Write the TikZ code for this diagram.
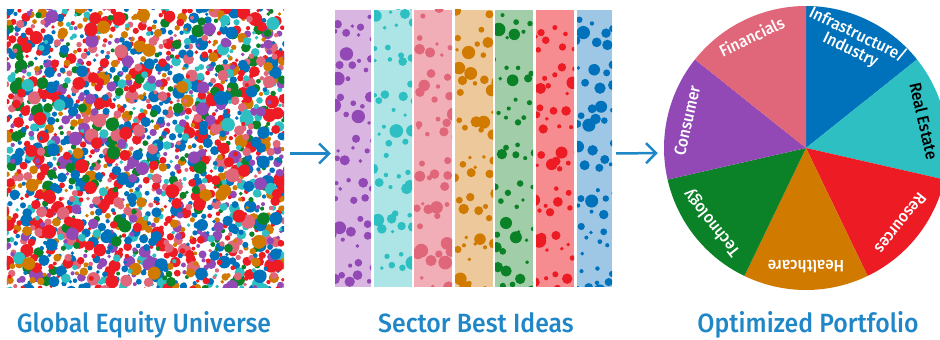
\documentclass[tikz,border=0pt]{standalone}
\usepackage{fontspec}
\setmainfont{Fira Sans Medium}[FakeStretch=0.94]
\usetikzlibrary{arrows.meta,calc}
\definecolor{cred}{HTML}{ED1C24}
\definecolor{cblu}{HTML}{0072BC}
\definecolor{cgrn}{HTML}{0C8228}
\definecolor{cora}{HTML}{D07A00}
\definecolor{cpnk}{HTML}{E0677A}
\definecolor{cpur}{HTML}{9249B5}
\definecolor{ccya}{HTML}{2DBFC1}
\definecolor{lred}{HTML}{F78C90}
\definecolor{lblu}{HTML}{9DC7E5}
\definecolor{lgrn}{HTML}{A1CEA9}
\definecolor{lora}{HTML}{ECC89A}
\definecolor{lpnk}{HTML}{F1AEB6}
\definecolor{lpur}{HTML}{D9B5E1}
\definecolor{lcya}{HTML}{ADE5E6}
\definecolor{labblue}{HTML}{1F87C8}
\colorlet{dc1}{cred}\colorlet{dc2}{cblu}\colorlet{dc3}{cgrn}
\colorlet{dc4}{cora}\colorlet{dc5}{cpnk}\colorlet{dc6}{cpur}
\colorlet{dc7}{ccya}\colorlet{dc8}{cred}\colorlet{dc9}{cblu}
\begin{document}
\begin{tikzpicture}[x=1pt,y=1pt,
  panel/.style={inner sep=0pt, minimum width=277, minimum height=277},
  arr/.style={labblue, line width=2.5pt, -{Straight Barb[length=10pt,width=20pt]}},
  pielab/.style={text=white, font=\fontsize{16.5}{16.5}\selectfont, align=center, inner sep=0pt},
  caption/.style={text=labblue, font=\fontsize{26.4}{28}\selectfont, anchor=base, inner sep=0pt}]
\useasboundingbox (0,0) rectangle (940,340);
\pgfmathsetseed{7}
% panels
\node[panel] (universe) at (145.5,191.5) {};
\node[panel] (sectors) at (473.5,191.5) {};
\node[circle, inner sep=0pt, minimum size=284] (pie) at (806,192) {};
% universe dots (quasi-random R2 sequence with jitter)
\begin{scope}
\clip (universe.south west) rectangle (universe.north east);
\foreach \j in {1,...,1750}{
  \pgfmathsetmacro\px{2+288*mod(0.5+\j*0.7548777,1)+4*(rnd-0.5)}
  \pgfmathsetmacro\py{48+288*mod(0.5+\j*0.5698403,1)+4*(rnd-0.5)}
  \pgfmathsetmacro\pr{1.9+5.2*rnd^2}
  \pgfmathrandominteger\ci{1}{9}
  \fill[dc\ci] (\px,\py) circle[radius=\pr];
}
\end{scope}
% sector stripes
\foreach \xl/\xr/\lc/\dc/\off in {335/371/lpur/cpur/0.11, 374/412/lcya/ccya/0.29, 414/452/lpnk/cpnk/0.47,
   455/493/lora/cora/0.63, 495/533/lgrn/cgrn/0.81, 536/574/lred/cred/0.93, 577/612/lblu/cblu/0.37}{
  \begin{scope}
  \clip (\xl,53) rectangle (\xr,330);
  \fill[\lc] (\xl,53) rectangle (\xr,330);
  \foreach \j in {1,...,56}{
    \pgfmathsetmacro\px{\xl-4+(\xr-\xl+8)*mod(\off+\j*0.7548777,1)+7*(rnd-0.5)}
    \pgfmathsetmacro\py{48+287*mod(\off+\j*0.5698403,1)+9*(rnd-0.5)}
    \pgfmathsetmacro\pr{1.9+5.0*rnd^2}
    \fill[\dc] (\px,\py) circle[radius=\pr];
  }
  \end{scope}
}
% pie
\foreach \col [count=\i from 0] in {cblu,ccya,cred,cora,cgrn,cpur,cpnk}{
  \pgfmathsetmacro\sa{90-\i*360/7}
  \pgfmathsetmacro\ea{\sa-360/7}
  \fill[\col] (pie.center) -- ++(\sa:142) arc[start angle=\sa, end angle=\ea, radius=142] -- cycle;
}
\node[pielab, rotate=64.29-90] (l1) at ($(pie.center)+(65.5:116)$) {Infrastructure/\\Industry};
\node[pielab, rotate=12.86-90, text=black] (l2) at ($(pie.center)+(12.86:121)$) {Real Estate};
\node[pielab, rotate=-38.57-90] (l3) at ($(pie.center)+(-38.57:121)$) {Resources};
\node[pielab, rotate=-180] (l4) at ($(pie.center)+(-90:119)$) {Healthcare};
\node[pielab, rotate=218.57-90] (l5) at ($(pie.center)+(218.57:120)$) {Technology};
\node[pielab, rotate=167.14-90] (l6) at ($(pie.center)+(167.14:122)$) {Consumer};
\node[pielab, rotate=115.71-90] (l7) at ($(pie.center)+(116:124)$) {Financials};
% arrows
\draw[arr, shorten <=6pt, shorten >=4pt] ([yshift=-5]universe.east) -- ([yshift=-5]sectors.west);
\draw[arr, shorten <=4pt, shorten >=6pt] ([yshift=-5]sectors.east) -- ([yshift=-5]pie.west);
% captions
\node[caption] (c1) at (144,7) {Global Equity Universe};
\node[caption] (c2) at (476,7) {Sector Best Ideas};
\node[caption] (c3) at (808,7) {Optimized Portfolio};
\end{tikzpicture}
\end{document}
